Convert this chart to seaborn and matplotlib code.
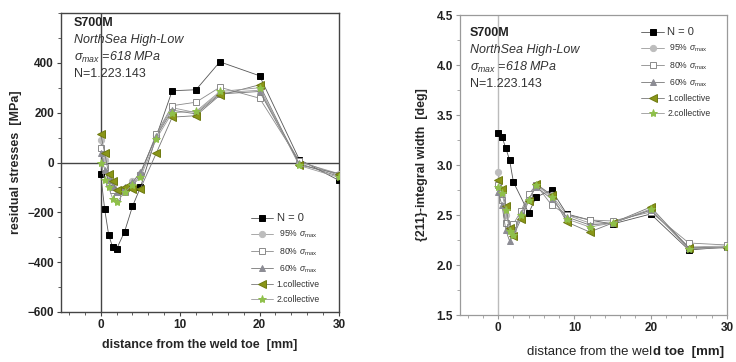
import numpy as np
import pandas as pd
import matplotlib
matplotlib.use("Agg")
import matplotlib.pyplot as plt
from matplotlib.ticker import MultipleLocator
import seaborn as sns

sns.set_style("white")
plt.rcParams['font.family'] = ['Liberation Sans', 'DejaVu Sans']
plt.rcParams['mathtext.fontset'] = 'custom'
plt.rcParams['mathtext.rm'] = 'Liberation Sans'
plt.rcParams['mathtext.it'] = 'Liberation Sans:italic'

# ---------------- data ----------------
series_names = ["N = 0", " 95% $\\sigma_{\\rm max}$", " 80% $\\sigma_{\\rm max}$",
                " 60% $\\sigma_{\\rm max}$", "1.collective", "2.collective"]

# left chart: residual stresses [MPa]
x_left_n0 = [0, 0.5, 1, 1.5, 2, 3, 4, 5, 7, 9, 12, 15, 20, 25, 30]
rs_n0 = [-48, -188, -290, -340, -347, -278, -176, -100, 105, 288, 292, 404, 348, 12, -72]
x_left = [0, 0.5, 1, 1.5, 2, 3, 4, 5, 7, 9, 12, 15, 20, 25, 30]
rs_95 = [90, 10, -70, -100, -130, -110, -75, -45, 110, 220, 200, 280, 290, 2, -45]
rs_80 = [60, -20, -80, -110, -140, -120, -90, -50, 115, 228, 242, 302, 258, 6, -52]
rs_60 = [40, -30, -72, -100, -120, -100, -80, -40, 105, 210, 195, 275, 285, -4, -56]
rs_c1 = [115, 38, -45, -75, -110, -100, -105, -105, 38, 182, 188, 270, 312, -10, -45]
rs_c2 = [0, -70, -100, -145, -160, -120, -90, -60, 95, 200, 205, 285, 300, -12, -60]

# right chart: {211}-integral width [deg]
x_right_n0 = [0, 0.5, 1, 1.5, 2, 4, 5, 7, 9, 12, 15, 20, 25, 30]
iw_n0 = [3.32, 3.28, 3.17, 3.05, 2.83, 2.52, 2.68, 2.75, 2.51, 2.45, 2.41, 2.51, 2.15, 2.18]
x_right = [0, 0.5, 1, 1.5, 2, 3, 4, 5, 7, 9, 12, 15, 20, 25, 30]
iw_95 = [2.93, 2.70, 2.50, 2.38, 2.35, 2.52, 2.68, 2.80, 2.70, 2.50, 2.42, 2.42, 2.55, 2.18, 2.19]
iw_80 = [2.80, 2.65, 2.42, 2.38, 2.41, 2.54, 2.71, 2.80, 2.60, 2.50, 2.45, 2.44, 2.53, 2.22, 2.20]
iw_60 = [2.73, 2.60, 2.35, 2.24, 2.30, 2.52, 2.66, 2.78, 2.66, 2.48, 2.40, 2.42, 2.55, 2.17, 2.18]
iw_c1 = [2.85, 2.76, 2.59, 2.37, 2.29, 2.46, 2.64, 2.81, 2.70, 2.43, 2.33, 2.42, 2.58, 2.17, 2.17]
iw_c2 = [2.78, 2.72, 2.55, 2.34, 2.30, 2.50, 2.65, 2.80, 2.68, 2.46, 2.38, 2.42, 2.56, 2.16, 2.18]

x_ticks = [0, 10, 20, 30]
y_ticks_left = [-600, -400, -200, 0, 200, 400]
y_ticks_right = [1.5, 2.0, 2.5, 3.0, 3.5, 4.0, 4.5]

# ---------------- styles ----------------
styles = [
    dict(marker='s', mfc='black', mec='black', ms=4.5),
    dict(marker='o', mfc='#bdbdbd', mec='#bdbdbd', ms=4.5),
    dict(marker='s', mfc='white', mec='#8a8a8a', ms=4.5),
    dict(marker='^', mfc='#8c8c94', mec='#8c8c94', ms=5),
    dict(marker='<', mfc='#8a9618', mec='#6e7a10', ms=5.5),
    dict(marker='*', mfc='#8fc04a', mec='#8fc04a', ms=6),
]
line_colors = ['#555555', '#9a9a9a', '#8a8a8a', '#777777', '#777777', '#999999']

fig = plt.figure(figsize=(7.36, 3.62), dpi=100)
axL = fig.add_axes([61/736, 1-312/362, (339-61)/736, (312-13)/362])
axR = fig.add_axes([460/736, 1-315/362, (727-460)/736, (315-15)/362])


def draw(ax, xs_list, ys_list):
    for i, (xs, ys) in enumerate(zip(xs_list, ys_list)):
        df = pd.DataFrame({'x': xs, 'y': ys})
        st = styles[i]
        sns.lineplot(data=df, x='x', y='y', ax=ax, sort=False, estimator=None,
                     color=line_colors[i], lw=0.6, marker=st['marker'],
                     markerfacecolor=st['mfc'], markeredgecolor=st['mec'],
                     markersize=st['ms'], markeredgewidth=0.7,
                     label=series_names[i], zorder=3 + i * 0.01)


# ---- left ----
axL.axvline(0, color='#444444', lw=1.0, zorder=1)
axL.axhline(0, color='#444444', lw=1.0, zorder=1)
draw(axL, [x_left_n0, x_left, x_left, x_left, x_left, x_left],
     [rs_n0, rs_95, rs_80, rs_60, rs_c1, rs_c2])
axL.set_xlim(-5, 30)
axL.set_ylim(-600, 600)
axL.set_xticks(x_ticks)
axL.set_yticks(y_ticks_left)
axL.xaxis.set_minor_locator(MultipleLocator(2))
axL.yaxis.set_minor_locator(MultipleLocator(100))
axL.set_xlabel("distance from the weld toe  [mm]", fontsize=9, fontweight='bold', labelpad=6)
axL.set_ylabel("residual stresses  [MPa]", fontsize=9, fontweight='bold', labelpad=4)
for sp in axL.spines.values():
    sp.set_color('#444444')
    sp.set_linewidth(1.0)

# ---- right ----
axR.axvline(0, color='#bbbbbb', lw=1.0, zorder=1)
draw(axR, [x_right_n0, x_right, x_right, x_right, x_right, x_right],
     [iw_n0, iw_95, iw_80, iw_60, iw_c1, iw_c2])
axR.set_xlim(-5, 30)
axR.set_ylim(1.5, 4.5)
axR.set_xticks(x_ticks)
axR.set_yticks(y_ticks_right)
axR.set_yticklabels([f"{v:.1f}" for v in y_ticks_right])
axR.xaxis.set_minor_locator(MultipleLocator(2))
axR.yaxis.set_minor_locator(MultipleLocator(0.25))
axR.set_ylabel("{211}-integral width  [deg]", fontsize=9, fontweight='bold', labelpad=6)
axR.set_xlabel("")
for sp in axR.spines.values():
    sp.set_color('#9a9a9a')
    sp.set_linewidth(0.9)

t1 = fig.text(590/736, 1-352/362, "distance from the wel", fontsize=9.5,
              ha='center', va='center', color='#222222')
fig.canvas.draw()
axR.annotate("d toe  [mm]", xy=(1, 0), xycoords=t1, va='bottom', ha='left',
             fontsize=9.5, fontweight='bold', color='#222222')

for ax, c in ((axL, '#444444'), (axR, '#9a9a9a')):
    ax.tick_params(axis='both', which='major', direction='out', length=3, width=0.8,
                   color=c, labelsize=8.5, pad=2, bottom=True, left=True)
    ax.tick_params(axis='both', which='minor', direction='out', length=2, width=0.6,
                   color=c, bottom=True, left=True)
    for lab in ax.get_xticklabels() + ax.get_yticklabels():
        lab.set_fontweight('bold')
        lab.set_color('#222222')

# annotations
def annot(ax, x0, y0, dy):
    ax.text(x0, y0, "S700M", transform=ax.transAxes, fontsize=9, fontweight='bold',
            va='center', color='#222222')
    ax.text(x0, y0 - dy, "NorthSea High-Low", transform=ax.transAxes, fontsize=9,
            style='italic', va='center', color='#333333')
    ax.text(x0, y0 - 2 * dy, "$\\sigma_{max}$ =618 MPa", transform=ax.transAxes,
            fontsize=9, style='italic', va='center', color='#333333')
    ax.text(x0, y0 - 3 * dy, "N=1.223.143", transform=ax.transAxes, fontsize=9,
            va='center', color='#333333')

annot(axL, (74-61)/278, 1-(23-13)/299, 17/299)
annot(axR, (470-460)/267, 1-(33-15)/300, 17/300)

# legends
for ax, loc in ((axL, (0.665, 0.01)), (axR, (0.66, 0.64))):
    h, l = ax.get_legend_handles_labels()
    leg = ax.legend(h, l, loc='lower left', bbox_to_anchor=loc, frameon=False,
                    fontsize=6.2, handlelength=2.6, handletextpad=0.4,
                    labelspacing=0.65, borderaxespad=0.2)
    for txt in leg.get_texts():
        txt.set_color('#333333')
    leg.get_texts()[0].set_fontsize(8)

fig.savefig("out.png", dpi=100)
